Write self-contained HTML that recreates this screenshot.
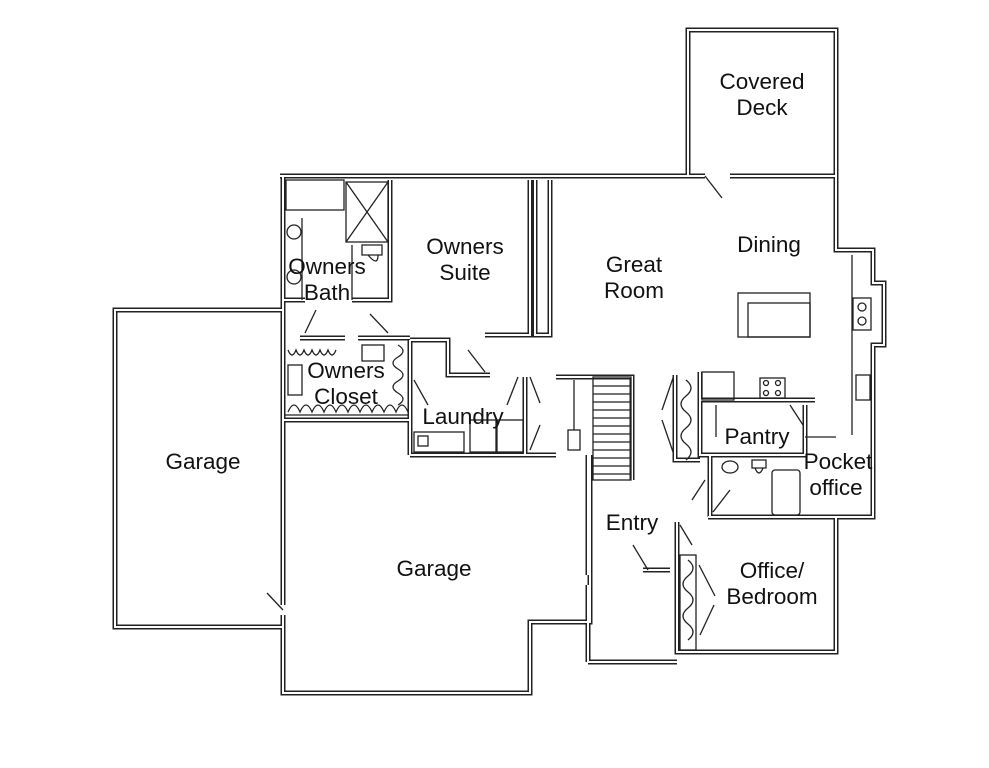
<!DOCTYPE html>
<html><head><meta charset="utf-8"><style>
html,body{margin:0;padding:0;background:#fff;}
svg{display:block;}
text{font-family:"Liberation Sans",Arial,sans-serif;font-size:22.5px;fill:#111;text-anchor:middle;}
</style></head><body>
<svg width="989" height="768" viewBox="0 0 989 768" xmlns="http://www.w3.org/2000/svg">
<defs>
<g id="w" fill="none">
<path d="M688,176 V30 H836 V176"/>
<path d="M280,176 H705 M730,176 H836"/>
<path d="M836,176 V250 H873 V283 H884 V345 H873 V517 H708"/>
<path d="M677,522 V652 H836 V517"/>
<path d="M588,662 H677"/>
<path d="M588,455 V575 M588,585 V662"/>
<path d="M410,455 H556 M590,455 V622 H530 V693 H283 V615"/>
<path d="M283,310 H115 V627 H283 M283,176 V605"/>
<path d="M283,420 H410 V455"/>
<path d="M530,180 V335 H485"/>
<path d="M300,338 H345 M358,338 H410 M410,340 H448 V375 H490"/>
<path d="M283,300 H305 M352,300 H390 V180"/>
<path d="M535,180 V335 H550 V180"/>
<path d="M410,340 V455"/>
<path d="M525,377 V455 M556,377 H632 V480"/>
<path d="M677,522 V545 M675,375 V460 H700 M700,372 V400 H815"/>
<path d="M700,400 V455 H805 V405"/>
<path d="M710,455 V517"/>
<path d="M643,570 H670"/>
</g>
</defs>
<use href="#w" stroke="#222" stroke-width="5"/>
<use href="#w" stroke="#fff" stroke-width="2"/>
<g fill="none" stroke="#222" stroke-width="1.3">
<line x1="705" y1="176" x2="722" y2="198"/>
<rect x="346" y="182" width="42" height="60"/>
<line x1="346" y1="182" x2="388" y2="242"/><line x1="388" y1="182" x2="346" y2="242"/>
<rect x="286" y="180" width="58" height="30"/>
<circle cx="294" cy="232" r="7"/><circle cx="294" cy="277" r="7"/>
<line x1="302" y1="218" x2="302" y2="300"/>
<path d="M362,245 h20 v10 h-20z M368,255 q10,12 10,0"/>
<line x1="352" y1="245" x2="352" y2="300"/>
<line x1="316" y1="310" x2="305" y2="333"/>
<line x1="370" y1="314" x2="388" y2="333"/>
<line x1="468" y1="350" x2="485" y2="372"/>
<line x1="414" y1="380" x2="428" y2="405"/>
<line x1="518" y1="377" x2="507" y2="405"/>
<line x1="530" y1="377" x2="540" y2="403"/>
<line x1="540" y1="425" x2="530" y2="450"/>
<line x1="267" y1="593" x2="283" y2="610"/>
<path d="M288,350 q4,10 8,0 q4,10 8,0 q4,10 8,0 q4,10 8,0 q4,10 8,0 q4,10 8,0"/>
<path d="M288,412 q6,-14 12,0 q6,-14 12,0 q6,-14 12,0 q6,-14 12,0 q6,-14 12,0 q6,-14 12,0 q6,-14 12,0 q6,-14 12,0 q6,-14 12,0 q6,-14 12,0"/>
<line x1="285" y1="415" x2="408" y2="415"/>
<rect x="288" y="365" width="14" height="30"/>
<rect x="362" y="345" width="22" height="16"/>
<path d="M398,345 q10,6 0,12 q-10,6 0,12 q10,6 0,12 q-10,6 0,12 q10,6 0,12"/>
<rect x="414" y="432" width="50" height="20"/>
<rect x="418" y="436" width="10" height="10"/>
<rect x="470" y="420" width="26" height="32"/><rect x="497" y="420" width="26" height="32"/>
<rect x="593" y="377" width="38" height="103"/>
<path d="M593,386H631M593,394H631M593,402H631M593,410H631M593,418H631M593,426H631M593,434H631M593,442H631M593,450H631M593,458H631M593,466H631M593,474H631"/>
<rect x="568" y="430" width="12" height="20"/>
<line x1="574" y1="380" x2="574" y2="430"/>
<rect x="738" y="293" width="72" height="44"/><rect x="748" y="303" width="62" height="34"/>
<rect x="702" y="372" width="32" height="28"/>
<rect x="760" y="378" width="25" height="20"/>
<circle cx="766" cy="383" r="2.5"/><circle cx="778" cy="383" r="2.5"/><circle cx="766" cy="393" r="2.5"/><circle cx="778" cy="393" r="2.5"/>
<line x1="852" y1="255" x2="852" y2="435"/>
<rect x="853" y="298" width="18" height="32"/>
<circle cx="862" cy="307" r="4"/><circle cx="862" cy="321" r="4"/>
<rect x="856" y="375" width="14" height="25"/>
<line x1="790" y1="405" x2="803" y2="425"/>
<line x1="716" y1="405" x2="716" y2="437"/>
<line x1="805" y1="437" x2="836" y2="437"/>
<path d="M686,380 q10,8 0,16 q-10,8 0,16 q10,8 0,16 q-10,8 0,16 q10,8 0,16"/>
<line x1="673" y1="378" x2="662" y2="410"/><line x1="662" y1="420" x2="673" y2="452"/>
<ellipse cx="730" cy="467" rx="8" ry="6"/>
<path d="M752,460 h14 v8 h-14z M755,468 q4,10 8,0"/>
<rect x="772" y="470" width="28" height="45" rx="3"/>
<line x1="705" y1="480" x2="692" y2="500"/>
<line x1="730" y1="490" x2="713" y2="512"/>
<line x1="633" y1="545" x2="648" y2="570"/>
<line x1="680" y1="525" x2="692" y2="545"/>
<rect x="680" y="555" width="16" height="95"/>
<path d="M688,560 q10,8 0,16 q-10,8 0,16 q10,8 0,16 q-10,8 0,16 q10,8 0,16"/>
<line x1="699" y1="565" x2="715" y2="596"/><line x1="714" y1="605" x2="700" y2="635"/>
</g>
<text x="762" y="89">Covered</text><text x="762" y="115">Deck</text>
<text x="465" y="254">Owners</text><text x="465" y="280">Suite</text>
<text x="634" y="272">Great</text><text x="634" y="298">Room</text>
<text x="769" y="252">Dining</text>
<text x="327" y="274">Owners</text><text x="327" y="300">Bath</text>
<text x="346" y="378">Owners</text><text x="346" y="404">Closet</text>
<text x="463" y="424">Laundry</text>
<text x="203" y="469">Garage</text>
<text x="434" y="576">Garage</text>
<text x="757" y="444">Pantry</text>
<text x="838" y="469">Pocket</text><text x="836" y="495">office</text>
<text x="632" y="530">Entry</text>
<text x="772" y="578">Office/</text><text x="772" y="604">Bedroom</text>
</svg>
</body></html>
